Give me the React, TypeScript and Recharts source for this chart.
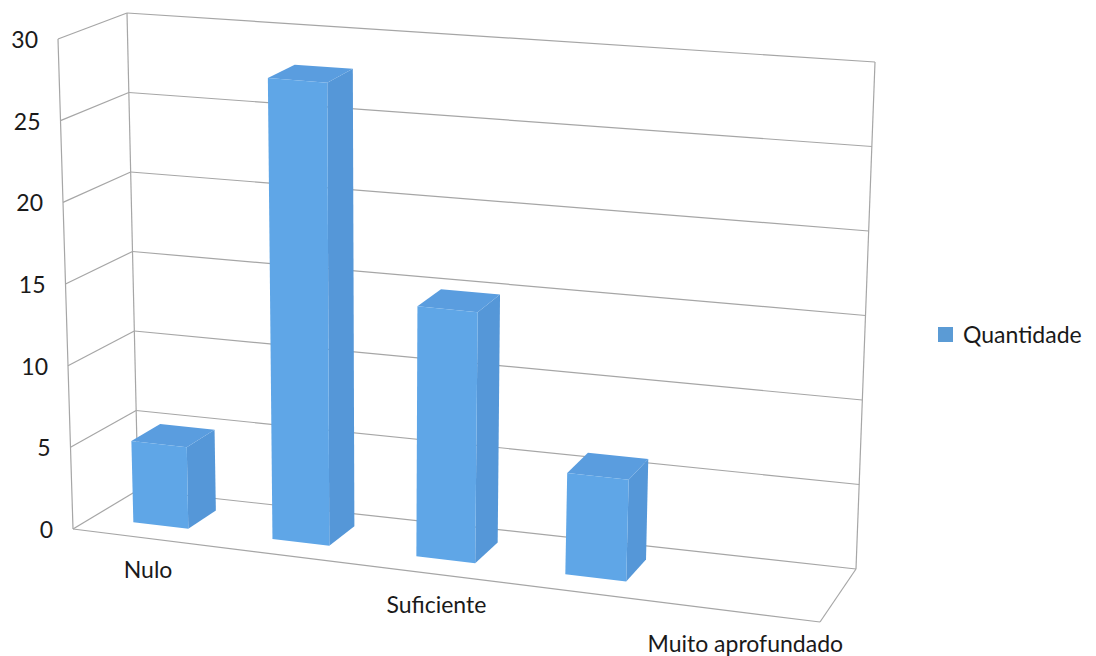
import { BarChart, Bar, XAxis, YAxis, CartesianGrid } from 'recharts';

const CATEGORIES = ['Nulo', 'Pouco', 'Suficiente', 'Aprofundado', 'Muito aprofundado'];
const QUANTIDADE = [5, 28, 15, 6, 0];
const Y_TICKS = [0, 5, 10, 15, 20, 25, 30];
const SERIES_NAME = 'Quantidade';

const data = CATEGORIES.map((name, i) => ({ name, quantidade: QUANTIDADE[i] }));

const CHART_W = 1080;
const CHART_H = 648;
const MARGIN = { top: 20, right: 20, bottom: 8, left: 0 };
const AXIS_SIZE = 20;
const PLOT_L = MARGIN.left + AXIS_SIZE;
const PLOT_W = CHART_W - PLOT_L - MARGIN.right;
const PLOT_H = CHART_H - MARGIN.top - MARGIN.bottom - AXIS_SIZE;
const PLOT_B = MARGIN.top + PLOT_H;

// 3D view: floor corners (front-left, front-right, back-left, back-right) and
// the screen vector spanning the full value range at each corner
const PAGE_OFFSET = 8;
const FLOOR = { a: [73, 529], b: [820, 622], c: [138, 490], d: [856, 569] };
const UP = { a: [-15, -490], b: [24, -522], c: [-11, -477], d: [19, -507] };
const PERSPECTIVE = 1.09;
const BAR_FRONT = 0.3;
const BAR_BACK = 0.75;

const FONT = 'Lato, "Open Sans", sans-serif';
const TEXT_COLOR = '#1a1a1a';
const GRID_COLOR = '#a6a6a6';

type Pt = [number, number];

const bilerp = (q: Record<string, number[]>, u: number, d: number, k: number) =>
  (1 - u) * (1 - d) * q.a[k] + u * (1 - d) * q.b[k] + (1 - u) * d * q.c[k] + u * d * q.d[k];

// u: 0..1 across the categories, v: 0..1 of the value range, d: 0 front .. 1 back
function project(u: number, v: number, d: number): Pt {
  const up = u / (PERSPECTIVE - (PERSPECTIVE - 1) * u);
  const x = bilerp(FLOOR, up, d, 0) + v * bilerp(UP, up, d, 0);
  const y = bilerp(FLOOR, up, d, 1) + v * bilerp(UP, up, d, 1);
  return [x - PAGE_OFFSET, y - PAGE_OFFSET];
}

const toU = (x: number) => (x - PLOT_L) / PLOT_W;
const toV = (y: number) => (PLOT_B - y) / PLOT_H;
const pts = (list: Pt[]) => list.map((p) => p.join(',')).join(' ');

function Seg({ from, to }: { from: Pt; to: Pt }) {
  return (
    <line x1={from[0]} y1={from[1]} x2={to[0]} y2={to[1]} stroke={GRID_COLOR} strokeWidth={1.2} />
  );
}

function WallLine(props: any) {
  const v = toV(props.y1);
  const isFloor = Math.abs(v) < 1e-6;
  return (
    <g key={`wall-${props.index}`}>
      <Seg from={project(0, v, 1)} to={project(1, v, 1)} />
      <Seg from={project(0, v, 0)} to={project(0, v, 1)} />
      {isFloor && (
        <>
          <Seg from={project(0, 0, 0)} to={project(1, 0, 0)} />
          <Seg from={project(1, 0, 0)} to={project(1, 0, 1)} />
          <Seg from={project(0, 0, 0)} to={project(0, 1, 0)} />
          <Seg from={project(0, 0, 1)} to={project(0, 1, 1)} />
          <Seg from={project(1, 0, 1)} to={project(1, 1, 1)} />
        </>
      )}
    </g>
  );
}

function Box3D(props: any) {
  const { x, y, width, value } = props;
  if (!value) return null;
  const u0 = toU(x);
  const u1 = toU(x + width);
  const v = toV(y);
  const front = [project(u0, 0, BAR_FRONT), project(u1, 0, BAR_FRONT), project(u1, v, BAR_FRONT), project(u0, v, BAR_FRONT)];
  const side = [project(u1, 0, BAR_FRONT), project(u1, 0, BAR_BACK), project(u1, v, BAR_BACK), project(u1, v, BAR_FRONT)];
  const top = [project(u0, v, BAR_FRONT), project(u1, v, BAR_FRONT), project(u1, v, BAR_BACK), project(u0, v, BAR_BACK)];
  return (
    <g>
      <polygon points={pts(side)} fill="#5597d8" />
      <polygon points={pts(top)} fill="#5a9ddf" />
      <polygon points={pts(front)} fill="#5fa6e7" />
    </g>
  );
}

function ValueTick(props: any) {
  const [px, py] = project(0, toV(props.y), 0);
  return (
    <text x={px - 20} y={py} textAnchor="end" dominantBaseline="central" fontFamily={FONT} fontSize={23} fill={TEXT_COLOR}>
      {props.payload.value}
    </text>
  );
}

function CategoryTick(props: any) {
  const [px, py] = project(toU(props.x), 0, 0);
  return (
    <text x={px + 6} y={py + 31} textAnchor="middle" dominantBaseline="central" fontFamily={FONT} fontSize={23} fill={TEXT_COLOR}>
      {props.payload.value}
    </text>
  );
}

export default function App() {
  return (
    <div style={{ position: 'relative', width: CHART_W, height: CHART_H }}>
      <BarChart width={CHART_W} height={CHART_H} data={data} margin={MARGIN} barCategoryGap="30%">
        <CartesianGrid vertical={false} horizontal={(p: any) => <WallLine {...p} />} />
        <XAxis
          dataKey="name"
          height={AXIS_SIZE}
          axisLine={false}
          tickLine={false}
          interval={1}
          tick={(p: any) => <CategoryTick {...p} />}
        />
        <YAxis
          width={AXIS_SIZE}
          domain={[0, 30]}
          ticks={Y_TICKS}
          axisLine={false}
          tickLine={false}
          tick={(p: any) => <ValueTick {...p} />}
        />
        <Bar dataKey="quantidade" name={SERIES_NAME} shape={(p: any) => <Box3D {...p} />} isAnimationActive={false} />
      </BarChart>
      <div
        style={{
          position: 'absolute',
          left: 930,
          top: 312,
          display: 'flex',
          alignItems: 'center',
          gap: 10,
          fontFamily: FONT,
          fontSize: 23,
          color: TEXT_COLOR,
        }}
      >
        <span style={{ width: 15, height: 15, background: '#5b9bd5', display: 'inline-block' }} />
        <span>{SERIES_NAME}</span>
      </div>
    </div>
  );
}
